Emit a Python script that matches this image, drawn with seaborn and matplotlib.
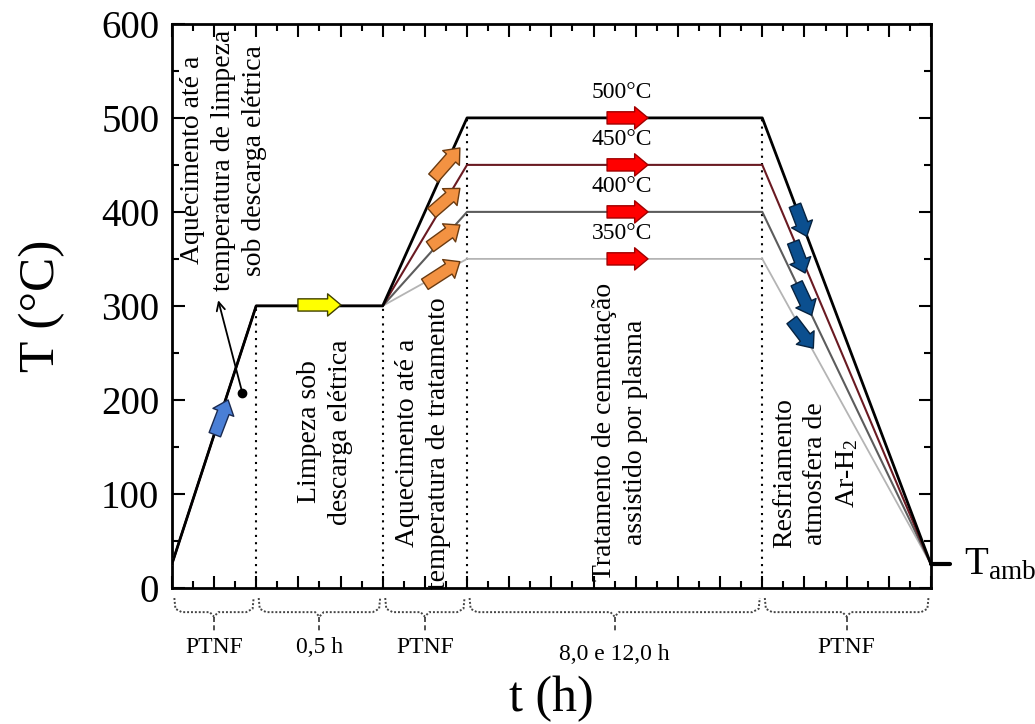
import matplotlib
matplotlib.use("Agg")
import matplotlib.pyplot as plt
import seaborn as sns
import pandas as pd
from matplotlib.patches import FancyArrowPatch
from matplotlib.transforms import blended_transform_factory
from matplotlib.ticker import MultipleLocator

# ---------------- data ----------------
t_points = [0, 4, 10, 14, 28, 36]
T_amb = 25
T_clean = 300
T_treat = [350, 400, 450, 500]
temp_labels = ["350°C", "400°C", "450°C", "500°C"]
line_colors = ["#b4b4b4", "#5c5c5c", "#6a1a22", "#000000"]
line_widths = [1.3, 1.5, 1.5, 2.0]

phase_bounds = [0, 4, 10, 14, 28, 36]
phase_labels = ["PTNF", "0,5 h", "PTNF", "8,0 e 12,0 h", "PTNF"]
y_ticks = [0, 100, 200, 300, 400, 500, 600]

# arrows (tail, head) in data coordinates
blue_arrow = [(2.04, 163), (2.67, 200)]
yellow_arrow = [(5.98, 301), (8.02, 301)]
orange_arrows = [[(12.00, 323), (13.66, 347)],
                 [(12.24, 363), (13.66, 386)],
                 [(12.32, 399), (13.66, 425)],
                 [(12.40, 436), (13.66, 468)]]
red_arrow_x = [20.64, 22.58]
navy_arrows = [[(29.55, 407), (30.11, 374)],
               [(29.47, 368), (30.03, 335)],
               [(29.63, 324), (30.34, 290)],
               [(29.40, 285), (30.42, 255)]]

# ---------------- style ----------------
sns.set_style("ticks")
plt.rcParams["font.family"] = ["Liberation Serif", "DejaVu Serif"]
plt.rcParams["mathtext.fontset"] = "custom"
plt.rcParams["mathtext.rm"] = "Liberation Serif"
plt.rcParams["mathtext.it"] = "Liberation Serif:italic"
plt.rcParams["text.color"] = "black"
plt.rcParams["axes.labelcolor"] = "black"
plt.rcParams["xtick.color"] = "black"
plt.rcParams["ytick.color"] = "black"

rows = []
for T, lab in zip(T_treat, temp_labels):
    temps = [T_amb, T_clean, T_clean, T, T, T_amb]
    for t, v in zip(t_points, temps):
        rows.append({"t": t, "T": v, "serie": lab})
df = pd.DataFrame(rows)

fig = plt.figure(figsize=(10.35, 7.24), dpi=100)
ax = fig.add_axes([0.166, 0.188, 0.7335, 0.779])

for lab, c, lw in zip(temp_labels, line_colors, line_widths):
    sns.lineplot(data=df[df["serie"] == lab], x="t", y="T", color=c,
                 linewidth=lw, sort=False, ax=ax, legend=False, zorder=3)

ax.set_xlim(0, 36)
ax.set_ylim(0, 600)
ax.set_yticks(y_ticks)
ax.xaxis.set_major_locator(MultipleLocator(2))
ax.xaxis.set_minor_locator(MultipleLocator(1))
ax.yaxis.set_minor_locator(MultipleLocator(50))
ax.tick_params(which="both", direction="in", top=True, right=True,
               width=1.5, colors="black")
ax.tick_params(which="major", length=9)
ax.tick_params(which="minor", length=5)
ax.tick_params(axis="x", labelbottom=False)
ax.tick_params(axis="y", labelsize=28, pad=9)
for s in ax.spines.values():
    s.set_linewidth(2)
    s.set_color("black")

ax.set_ylabel("T (°C)", fontsize=37, color="black")
ax.yaxis.set_label_coords(-0.14, 0.5)
ax.set_xlabel("t (h)", fontsize=36, color="black")
ax.xaxis.set_label_coords(0.5, -0.155)

# dotted vertical phase separators
tops = [T_clean, T_clean, max(T_treat), max(T_treat)]
for xb, top in zip(phase_bounds[1:5], tops):
    ax.plot([xb, xb], [0, top], ls=(0, (1, 2.5)), color="black", lw=1.5, zorder=2)


def block_arrow(p0, p1, fc, ec):
    a = FancyArrowPatch(p0, p1,
                        arrowstyle="simple,head_length=0.6,head_width=1.0,tail_width=0.55",
                        mutation_scale=16, fc=fc, ec=ec, lw=1.0,
                        shrinkA=0, shrinkB=0, zorder=5)
    ax.add_patch(a)


block_arrow(*blue_arrow, "#4a7fd6", "#1a2a50")
block_arrow(*yellow_arrow, "#ffff00", "#404000")
for p0, p1 in orange_arrows:
    block_arrow(p0, p1, "#f39242", "#6a3a10")
for T in T_treat:
    block_arrow((red_arrow_x[0], T), (red_arrow_x[1], T), "#ff0000", "#a00000")
for p0, p1 in navy_arrows:
    block_arrow(p0, p1, "#0b4f8f", "#06223f")

# temperature labels
for T, lab in zip(T_treat, temp_labels):
    ax.text(21.35, T + 27, lab, fontsize=17, ha="center", va="center", color="black")

# annotation arrow with dot
ax.plot([3.35], [207], "o", color="black", ms=6, zorder=6)
ax.annotate("", xy=(2.2, 306), xytext=(3.35, 207),
            arrowprops=dict(arrowstyle="->,head_length=0.6,head_width=0.3",
                            color="black", lw=1.3, shrinkA=0, shrinkB=0),
            zorder=6)

# rotated phase texts
txt_kw = dict(rotation=90, ha="center", va="center", multialignment="center",
              fontsize=20, linespacing=1.3, color="black")
ax.text(2.45, 455, "Aquecimento até a\ntemperatura de limpeza\nsob descarga elétrica", **txt_kw)
ax.text(7.26, 166, "Limpeza sob\ndescarga elétrica", **txt_kw)
ax.text(11.9, 154, "Aquecimento até a\ntemperatura de tratamento", **txt_kw)
ax.text(21.25, 166, "Tratamento de cementação\nassistido por plasma", **txt_kw)
ax.text(30.55, 122, "Resfriamento\natmosfera de\nAr-H$_\\mathrm{2}$", **txt_kw)

# T_amb marker outside right
ax.plot([36, 36.9], [T_amb, T_amb], color="black", lw=3, clip_on=False, zorder=6)
ax.text(37.55, T_amb, "T$_\\mathrm{amb}$", fontsize=28, ha="left", va="center",
        clip_on=False, color="black")

# braces below axis
tr = blended_transform_factory(ax.transData, ax.transAxes)
y_top, y_bot, y_tick, y_lab = -0.018, -0.043, -0.078, -0.106
for a, b, lab in zip(phase_bounds[:-1], phase_bounds[1:], phase_labels):
    a2, b2 = a + 0.12, b - 0.12
    c = (a + b) / 2
    d = 0.35
    xs = [a2, a2 + 0.05, a2 + d, c - 0.2, c, c + 0.2, b2 - d, b2 - 0.05, b2]
    ys = [y_top, y_bot + 0.006, y_bot, y_bot, y_bot - 0.008, y_bot, y_bot, y_bot + 0.006, y_top]
    ax.plot(xs, ys, transform=tr, clip_on=False, color="#444444", lw=1.4,
            ls=(0, (1, 1)))
    ax.plot([c, c], [y_bot - 0.008, y_tick], transform=tr, clip_on=False,
            color="#333333", lw=1.2, ls=(0, (3, 2)))
    yy = y_lab - (0.012 if "e" in lab else 0)
    ax.text(c, yy, lab, transform=tr, fontsize=17, ha="center", va="center",
            color="black")

fig.savefig("out.png", dpi=100, facecolor="white")
